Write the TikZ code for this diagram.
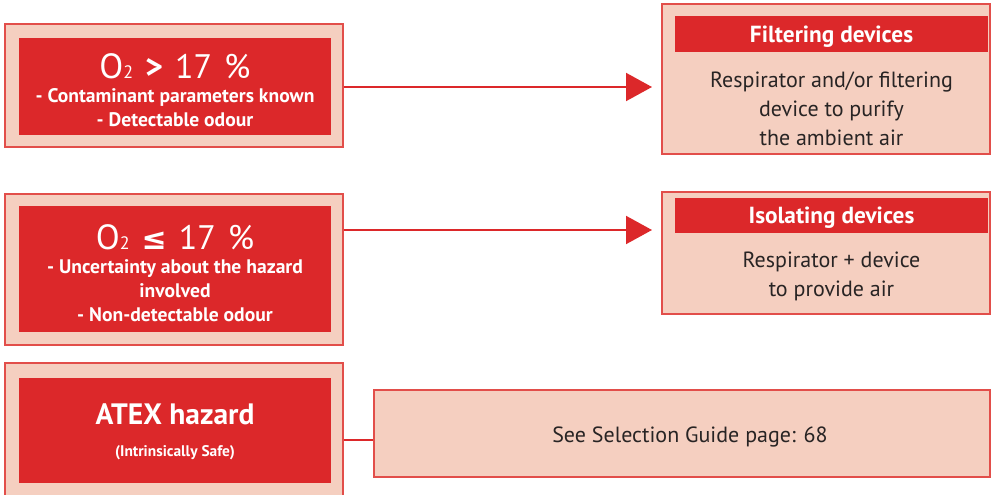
\documentclass[tikz,border=0pt]{standalone}
\usepackage{fontspec}
\setmainfont{PT Sans}
\newfontfamily\symfont{DejaVu Sans}
\usetikzlibrary{arrows.meta}
\definecolor{cred}{RGB}{220,40,42}
\definecolor{cpink}{RGB}{245,207,192}
\definecolor{cedge}{RGB}{226,78,74}
\definecolor{ctext}{RGB}{40,36,36}
\tikzset{
  outerbox/.style={draw=cedge, line width=1.2pt, fill=cpink, minimum width=338pt, inner sep=0pt},
  redbox/.style={fill=cred, text=white, inner sep=0pt, align=center, font=\bfseries},
  headbox/.style={fill=cred, text=white, inner sep=0pt, minimum width=313pt, text height=16.5pt, text depth=0pt, font=\bfseries\fontsize{23.3}{26}\selectfont},
  bodytext/.style={text=ctext, align=center, inner sep=0pt, font=\fontsize{22}{29}\selectfont},
  whitetext/.style={text=white, align=center, inner sep=0pt, font=\bfseries\fontsize{19.6}{24}\selectfont},
  arrowline/.style={draw=cred, line width=2pt, -{Triangle[length=26pt,width=28pt]}},
  plainline/.style={draw=cred, line width=2pt}
}
\newcommand{\otwo}{{\mdseries\fontsize{35}{35}\selectfont O{\fontsize{18}{18}\selectfont 2}}}
\newcommand{\bigsp}{\hspace{12pt}}
\begin{document}
\begin{tikzpicture}[x=1pt,y=-1pt]
\useasboundingbox (0,0) rectangle (991,495);
% left boxes
\node[outerbox, minimum height=123pt] (o1) at (174,85.5) {};
\node[redbox, minimum width=312pt, minimum height=97pt] (r1) at (175,86.5) {};
\node[whitetext] (t1) at (175,90)
  {\otwo\bigsp{\fontsize{34}{34}\selectfont\textbf{>}\bigsp\mdseries 17\bigsp\%}\\
   - Contaminant parameters known\\- Detectable odour};

\node[outerbox, minimum height=151pt] (o2) at (174,269.5) {};
\node[redbox, minimum width=312pt, minimum height=126pt] (r2) at (175,269) {};
\node[whitetext] (t2) at (175,273)
  {\otwo\bigsp{\fontsize{30}{34}\selectfont\symfont\bfseries ≤}\bigsp{\mdseries\fontsize{34}{34}\selectfont 17\bigsp\%}\\
   - Uncertainty about the hazard\\involved\\- Non-detectable odour};

\node[outerbox, minimum height=136pt] (o3) at (174,431) {};
\node[redbox, minimum width=312pt, minimum height=105pt] (r3) at (175,430.5) {};
\node[text=white, align=center, inner sep=0pt, font=\bfseries\fontsize{29.5}{32}\selectfont] (t3) at (175,432)
  {ATEX hazard\\{\fontsize{15.4}{16}\selectfont (Intrinsically Safe)}};

% right boxes
\node[outerbox, minimum width=328pt, minimum height=150pt] (p1) at (826,79) {};
\node[headbox, minimum height=36pt] (h1) at (831.5,34) {Filtering devices};
\node[bodytext] (b1) at (831.5,109) {Respirator and/or filtering\\device to purify\\the ambient air};

\node[outerbox, minimum width=328pt, minimum height=122pt] (p2) at (826,253) {};
\node[headbox, minimum height=35pt] (h2) at (831.5,215.5) {Isolating devices};
\node[bodytext] (b2) at (831.5,276) {Respirator + device\\to provide air};

\node[outerbox, minimum width=616pt, minimum height=87pt] (p3) at (682,433.5) {};
\node[bodytext] (b3) at (690,437) {See Selection Guide page: 68};

% connectors
\coordinate (a1) at (652,87);
\coordinate (a2) at (652,230);
\coordinate (a3) at (374,440);
\draw[arrowline] (o1.east |- a1) -- (a1);
\draw[arrowline] (o2.east |- a2) -- (a2);
\draw[plainline] (o3.east |- a3) -- (p3.west |- a3);
\end{tikzpicture}
\end{document}
